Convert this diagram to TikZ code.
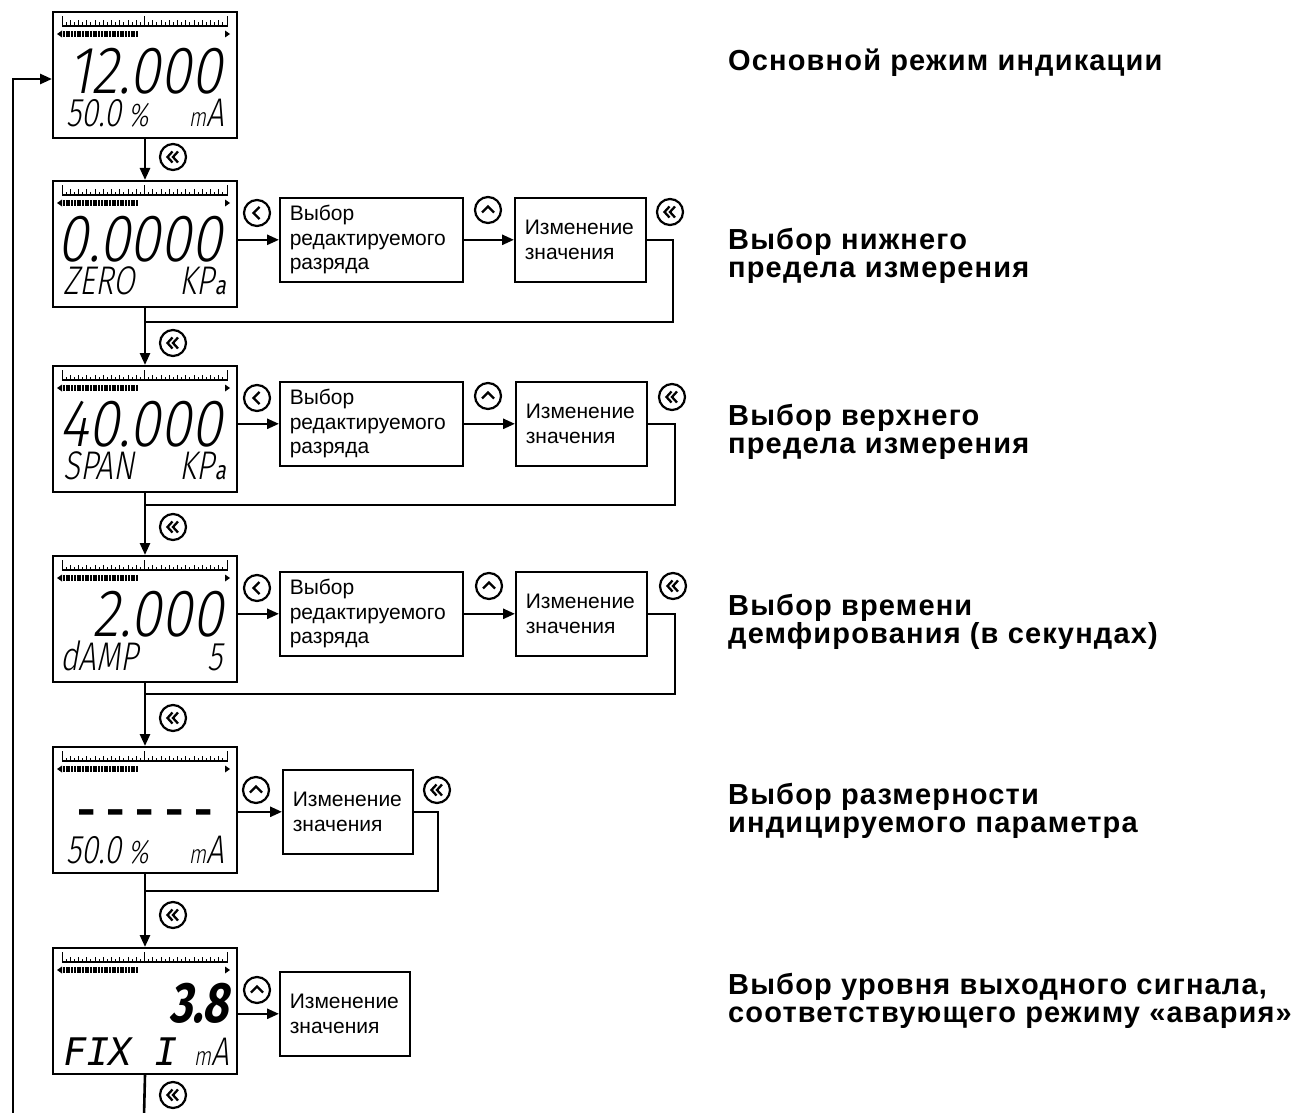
\documentclass[tikz,border=0pt]{standalone}
\usepackage{fontspec}
\setmainfont{Liberation Sans}
\newfontfamily\lcdwide{Fira Sans Light}[FakeStretch=0.84,FakeSlant=0.18]
\newfontfamily\lcdfont{Fira Sans Light}[FakeStretch=0.78,FakeSlant=0.18]
\newfontfamily\lcdbfont{Fira Sans}[FakeStretch=0.78,FakeSlant=0.18]
\newfontfamily\lcdmono{DejaVu Sans Mono}[FakeSlant=0.18]
\newfontfamily\dashfont{Fira Sans}
\usetikzlibrary{arrows.meta}
\newcommand\lcdbig{\lcdwide\fontsize{67}{67}\selectfont}
\newcommand\lcdmid{\lcdfont\fontsize{40}{40}\selectfont}
\newcommand\lcdsml{\lcdfont\fontsize{26}{26}\selectfont}
\newcommand\lcdpct{\lcdfont\fontsize{33}{33}\selectfont}
\newcommand\lcdka{\lcdbfont\fontsize{26}{26}\selectfont}
\newcommand\lcdscale{%
  \draw[line width=1.3pt] (10,15) -- (175,15);
  \foreach \i in {0,...,40}{%
    \pgfmathsetmacro\tickh{ifthenelse(mod(\i,20)==0,10,ifthenelse(mod(\i,2)==0,5.5,3.5))}%
    \draw[line width=1pt] ({10+\i*4.125},15.6) -- ++(0,{-\tickh-0.6});
  }
  \fill (5,23) -- (10,19.5) -- (10,26.5) -- cycle;
  \draw[line width=6.5pt, dash pattern=on 2pt off 0.7pt] (11,23) -- (86,23);
  \fill (178,23) -- (173,19.5) -- (173,26.5) -- cycle;
}
\begin{document}
\begin{tikzpicture}[x=1pt,y=-1pt,
  lcd/.style={draw, line width=2pt, minimum width=184pt, minimum height=126pt, inner sep=0pt, anchor=north west},
  sbox/.style={draw, line width=1.6pt, anchor=north west, minimum height=84pt, inner xsep=10pt, inner ysep=0pt, align=left, font=\fontsize{21}{24.5}\selectfont},
  con/.style={line width=2.6pt},
  arr/.style={con, -{Triangle[length=12pt,width=10pt]}},
  ttl/.style={anchor=west, align=left, inner sep=0pt, font=\addfontfeatures{LetterSpace=4}\bfseries\fontsize{29}{28.5}\selectfont},
  lt/.style={inner sep=0pt},
  btn/.style={circle, draw, line width=2.2pt, minimum size=26pt, inner sep=0pt},
  chev/.style={line width=2.3pt},
  bdbl/.style={btn, path picture={
      \draw[chev] ([shift={(-0.5,-5.5)}]path picture bounding box.center) -- ++(-5,5.5) -- ++(5,5.5);
      \draw[chev] ([shift={(5,-5.5)}]path picture bounding box.center) -- ++(-5,5.5) -- ++(5,5.5);}},
  bleft/.style={btn, path picture={
      \draw[chev] ([shift={(2.5,-6)}]path picture bounding box.center) -- ++(-6,6) -- ++(6,6);}},
  bup/.style={btn, path picture={
      \draw[chev] ([shift={(-6,2.5)}]path picture bounding box.center) -- ++(6,-6) -- ++(6,6);}}
]
\useasboundingbox (0,0) rectangle (1299,1113);

% LCD screens
\node[lcd] (L1) at (52,11) {};
\node[lcd] (L2) at (52,180) {};
\node[lcd] (L3) at (52,365) {};
\node[lcd] (L4) at (52,555) {};
\node[lcd] (L5) at (52,746) {};
\node[lcd] (L6) at (52,947) {};

\begin{scope}[shift={(L1.north west)}]
  \lcdscale
  \node[lt, anchor=base east, font=\lcdbig] (d1) at (171,83) {12.000};
  \node[lt, anchor=base west, font=\lcdmid] (e1) at (14,116) {50.0\,{\lcdpct\%}};
  \node[lt, anchor=base east, font=\lcdmid] (f1) at (172,116) {{\lcdsml m}A};
\end{scope}
\begin{scope}[shift={(L2.north west)}]
  \lcdscale
  \node[lt, anchor=base east, font=\lcdbig] (d2) at (171,81) {0.0000};
  \node[lt, anchor=base west, font=\lcdmid] (e2) at (11,114) {ZERO};
  \node[lt, anchor=base east, font=\lcdmid] (f2) at (174,114) {KP{\lcdka a}};
\end{scope}
\begin{scope}[shift={(L3.north west)}]
  \lcdscale
  \node[lt, anchor=base east, font=\lcdbig] (d3) at (171,81) {40.000};
  \node[lt, anchor=base west, font=\lcdmid] (e3) at (11,114) {SPAN};
  \node[lt, anchor=base east, font=\lcdmid] (f3) at (174,114) {KP{\lcdka a}};
\end{scope}
\begin{scope}[shift={(L4.north west)}]
  \lcdscale
  \node[lt, anchor=base east, font=\lcdbig] (d4) at (172,81) {2.000};
  \node[lt, anchor=base west, font=\lcdmid] (e4) at (8,115) {dAMP};
  \node[lt, anchor=base east, font=\lcdmid] (f4) at (171,115) {5};
\end{scope}
\begin{scope}[shift={(L5.north west)}]
  \lcdscale
  \node[lt, anchor=base west, font=\dashfont\bfseries\fontsize{45}{45}\selectfont] (d5) at (25,80) {-\hspace{11pt}-\hspace{11pt}-\hspace{11pt}-\hspace{11pt}-};
  \node[lt, anchor=base west, font=\lcdmid] (e5) at (14,117) {50.0\,{\lcdpct\%}};
  \node[lt, anchor=base east, font=\lcdmid] (f5) at (172,117) {{\lcdsml m}A};
\end{scope}
\begin{scope}[shift={(L6.north west)}]
  \lcdscale
  \node[lt, anchor=base east, font=\lcdbfont\bfseries\fontsize{57}{57}\selectfont] (d6) at (177,75) {3.8};
  \node[lt, anchor=base west, font=\lcdmono\fontsize{38}{38}\selectfont] (e6) at (9,118) {FIX};
  \node[lt, anchor=base west, font=\lcdmono\fontsize{38}{38}\selectfont] (g6) at (100,118) {I};
  \node[lt, anchor=base east, font=\lcdmid] (f6) at (177,118) {{\lcdsml m}A};
\end{scope}

% side boxes
\node[sbox, text width=163pt] (B21) at (279,197) {Выбор\\редактируемого\\разряда};
\node[sbox, text width=111pt] (B22) at (514,197) {Изменение\\значения};
\node[sbox, text width=163pt] (B31) at (279,381) {Выбор\\редактируемого\\разряда};
\node[sbox, text width=111pt] (B32) at (515,381) {Изменение\\значения};
\node[sbox, text width=163pt] (B41) at (279,571) {Выбор\\редактируемого\\разряда};
\node[sbox, text width=111pt] (B42) at (515,571) {Изменение\\значения};
\node[sbox, text width=110pt] (B5) at (282,769) {Изменение\\значения};
\node[sbox, text width=110pt] (B6) at (279,971) {Изменение\\значения};

% buttons
\node[bdbl] (s1) at (173,157) {};
\node[bleft] (k2) at (257,213) {};
\node[bup] (u2) at (488,210) {};
\node[bdbl] (s2) at (670,212) {};
\node[bdbl] (s2b) at (173,343) {};
\node[bleft] (k3) at (257,398) {};
\node[bup] (u3) at (488,396) {};
\node[bdbl] (s3) at (672,397) {};
\node[bdbl] (s3b) at (173,527) {};
\node[bleft] (k4) at (257,588) {};
\node[bup] (u4) at (489,586) {};
\node[bdbl] (s4) at (673,586) {};
\node[bdbl] (s4b) at (173,718) {};
\node[bup] (u5) at (256,790) {};
\node[bdbl] (s5) at (437,790) {};
\node[bdbl] (s5b) at (173,915) {};
\node[bup] (u6) at (257,990) {};
\node[bdbl] (s6) at (173,1095) {};

% connectors
\draw[arr] (L1.south) -- (L2.north);
\draw[arr] (L2.east |- B21.west) -- (B21.west);
\draw[arr] (B21.east) -- (B22.west);
\coordinate (r2) at (673,322);
\draw[con] (B22.east) -| (r2) -- (L2.south |- r2);
\draw[arr] (L2.south) -- (L3.north);

\draw[arr] (L3.east |- B31.west) -- (B31.west);
\draw[arr] (B31.east) -- (B32.west);
\coordinate (r3) at (675,505);
\draw[con] (B32.east) -| (r3) -- (L3.south |- r3);
\draw[arr] (L3.south) -- (L4.north);

\draw[arr] (L4.east |- B41.west) -- (B41.west);
\draw[arr] (B41.east) -- (B42.west);
\coordinate (r4) at (675,694);
\draw[con] (B42.east) -| (r4) -- (L4.south |- r4);
\draw[arr] (L4.south) -- (L5.north);

\draw[arr] (L5.east |- B5.west) -- (B5.west);
\coordinate (r5) at (438,891);
\draw[con] (B5.east) -| (r5) -- (L5.south |- r5);
\draw[arr] (L5.south) -- (L6.north);

\draw[arr] (L6.east |- B6.west) -- (B6.west);
\coordinate (bot) at (144,1116);
\draw[con] (L6.south) -- (bot);

\coordinate (lb) at (13,1116);
\coordinate (ltop) at (13,79);
\draw[arr] (lb) -- (ltop) -- (L1.west |- ltop);

% titles
\node[ttl] (t1) at (728,63) {Основной режим индикации};
\node[ttl] (t2) at (728,256) {Выбор нижнего\\предела измерения};
\node[ttl] (t3) at (728,432) {Выбор верхнего\\предела измерения};
\node[ttl] (t4) at (728,622) {Выбор времени\\демфирования (в секундах)};
\node[ttl] (t5) at (728,811) {Выбор размерности\\индицируемого параметра};
\node[ttl] (t6) at (728,1001) {Выбор уровня выходного сигнала,\\соответствующего режиму «авария»};
\end{tikzpicture}
\end{document}
